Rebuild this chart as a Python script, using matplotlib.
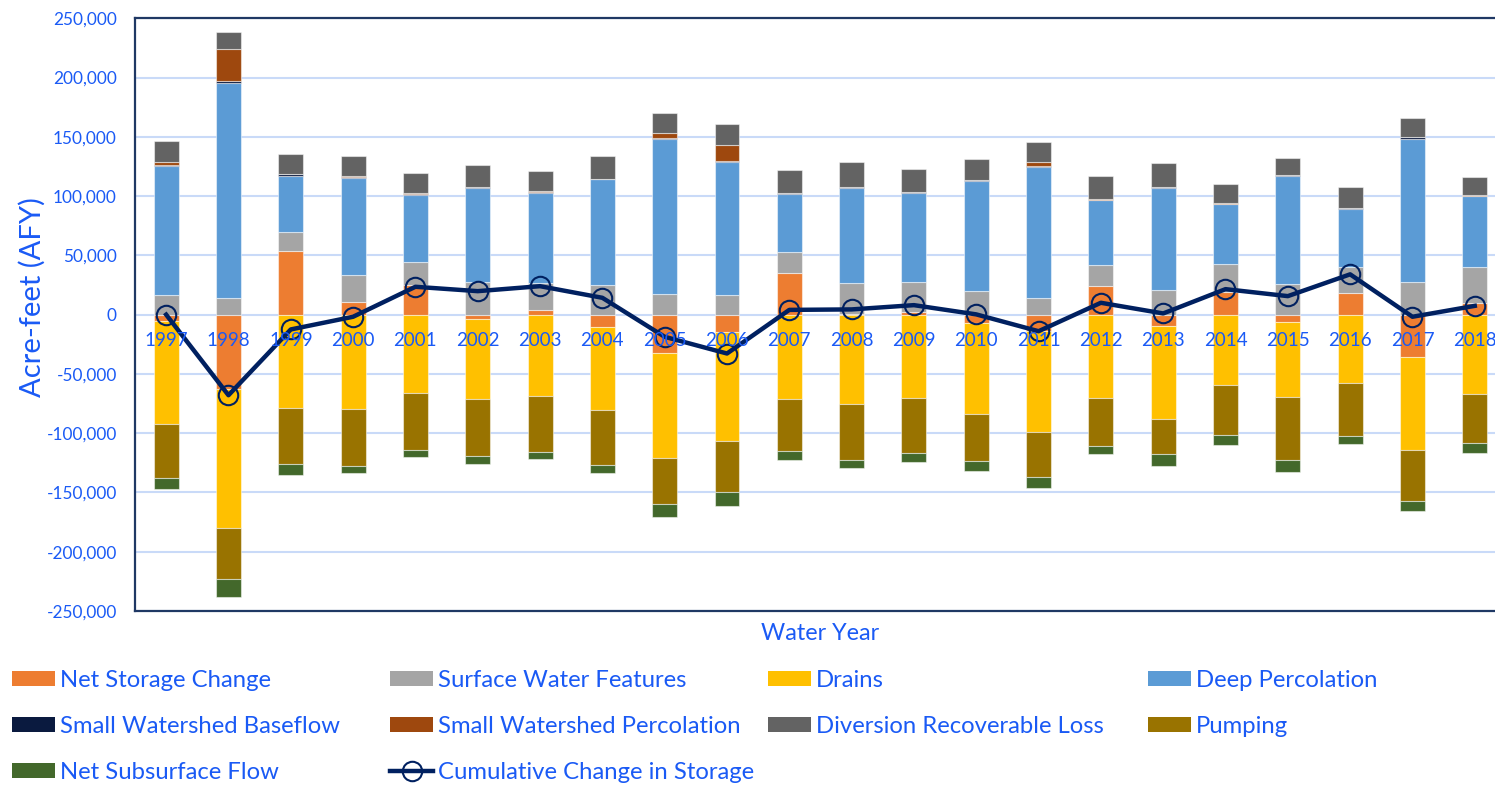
import numpy as np
import matplotlib.pyplot as plt
from matplotlib.lines import Line2D
from matplotlib.patches import Patch
from matplotlib.ticker import FuncFormatter

plt.rcParams['font.family'] = ['Lato', 'DejaVu Sans']

# Water budget components (acre-feet per year)
years = list(range(1997, 2019))
net_storage = [-5200, -63000, 53900, 10800, 25000, -3800, 4000, -10300, -32000, -15000, 35300,
               400, 2400, -7400, -14000, 24300, -9700, 19500, -6600, 18400, -36100, 9500]
surface_water = [16500, 14200, 16000, 23000, 19000, 27200, 22300, 25000, 17300, 16500, 17200,
                 25900, 24800, 19600, 13900, 17500, 20700, 23000, 25800, 22000, 27200, 30400]
drains = [-86700, -117000, -78700, -80000, -66000, -67600, -69000, -70400, -88600, -91800, -70800,
          -75300, -70300, -76400, -85000, -70500, -78000, -59500, -63300, -57300, -78300, -67100]
deep_perc = [109000, 181000, 47300, 81500, 57000, 79400, 76600, 89000, 131000, 112300, 49300,
             80800, 75700, 93200, 110900, 54700, 86400, 50600, 91400, 48700, 121300, 60200]
sw_baseflow = [1000, 1500, 1300, 1000, 1000, 1000, 800, 600, 1000, 1000, 800,
               600, 600, 600, 1000, 500, 500, 600, 400, 500, 1000, 400]
sw_perc = [2500, 27000, 300, 300, 200, 200, 200, 200, 4000, 13400, 200,
           200, 200, 200, 2700, 200, 200, 200, 200, 200, 300, 200]
div_loss = [17800, 14600, 16800, 17000, 17300, 18200, 17300, 18800, 17100, 17900, 19500,
            20500, 19400, 17700, 16900, 20000, 19900, 16100, 14600, 18200, 16200, 15700]
pumping = [-45600, -42800, -47000, -48000, -48000, -48000, -46900, -46400, -39000, -42900, -43900,
           -47000, -46400, -39700, -38000, -40000, -29900, -42000, -53000, -45100, -42500, -41200]
subsurface = [-9900, -15700, -10000, -6000, -6000, -6500, -6000, -6800, -11300, -11800, -8200,
              -7000, -7300, -8400, -9000, -7100, -10400, -8700, -10100, -6400, -9100, -8700]
cumulative = [0, -68000, -12500, -1800, 23500, 19800, 24000, 14200, -18700, -32800, 4000,
              4400, 8000, 200, -14000, 10000, 1000, 21500, 15600, 34000, -1800, 7400]

series = [
    ("Net Storage Change", net_storage, "#ED7D31"),
    ("Surface Water Features", surface_water, "#A5A5A5"),
    ("Drains", drains, "#FFC000"),
    ("Deep Percolation", deep_perc, "#5B9BD5"),
    ("Small Watershed Baseflow", sw_baseflow, "#0A1A3F"),
    ("Small Watershed Percolation", sw_perc, "#9E480E"),
    ("Diversion Recoverable Loss", div_loss, "#636363"),
    ("Pumping", pumping, "#997300"),
    ("Net Subsurface Flow", subsurface, "#43682B"),
]

blue = '#1A5AF5'
navy = '#002060'

fig = plt.figure(figsize=(14.95, 7.85), dpi=100)
ax = fig.add_axes([0.0903, 0.2217, 0.917, 0.755])

x = np.arange(len(years))
pos = np.zeros(len(years))
neg = np.zeros(len(years))
handles = {}
for name, vals, color in series:
    v = np.array(vals, dtype=float)
    bottom = np.where(v >= 0, pos, neg)
    ax.bar(x, v, 0.4, bottom=bottom, color=color, edgecolor=(1, 1, 1, 0.5), linewidth=0.8, zorder=2)
    pos += np.where(v >= 0, v, 0)
    neg += np.where(v < 0, v, 0)
    handles[name] = Patch(facecolor=color)

ax.plot(x, cumulative, color=navy, lw=3.2, marker='o', ms=14, mfc='none', mec=navy, mew=1.5, zorder=3)
handles["Cumulative Change in Storage"] = Line2D([], [], color=navy, lw=3.2, marker='o', ms=14,
                                                 mfc='none', mec=navy, mew=1.5)

# year labels sit just under the zero line
for i, yr in enumerate(years):
    ax.text(i, -21500, str(yr), ha='center', va='center', color=blue, fontsize=13.5, zorder=4)

ax.set_xlim(-0.5, len(years) - 0.5)
ax.set_ylim(-250000, 250000)
ax.set_yticks(np.arange(-250000, 250001, 50000))
ax.yaxis.set_major_formatter(FuncFormatter(lambda v, p: f"{v:,.0f}"))
ax.set_xticks([])
ax.tick_params(axis='y', length=0, labelcolor=blue, labelsize=12.4, pad=13)
ax.yaxis.grid(True, color='#C9DAF8', lw=1.5)
ax.set_axisbelow(True)

for s in ['left', 'top', 'bottom']:
    ax.spines[s].set_color('#1F3864')
    ax.spines[s].set_linewidth(1.6)
ax.spines['right'].set_visible(False)

ax.set_ylabel("Acre-feet (AFY)", color=blue, fontsize=21)
ax.yaxis.set_label_coords(-0.065, 0.53)
ax.set_xlabel("Water Year", color=blue, fontsize=16.8, labelpad=9)

# legend laid out as four evenly spaced columns
columns = [
    ["Net Storage Change", "Small Watershed Baseflow", "Net Subsurface Flow"],
    ["Surface Water Features", "Small Watershed Percolation", "Cumulative Change in Storage"],
    ["Drains", "Diversion Recoverable Loss"],
    ["Deep Percolation", "Pumping"],
]
col_x = [0.008, 0.261, 0.514, 0.768]
for cx, names in zip(col_x, columns):
    leg = fig.legend([handles[n] for n in names], names, loc='upper left', bbox_to_anchor=(cx, 0.147),
                     frameon=False, fontsize=17.2, handlelength=1.8, handleheight=0.6, handletextpad=0.2,
                     labelspacing=1.05, borderpad=0, borderaxespad=0)
    for t in leg.get_texts():
        t.set_color(blue)

fig.savefig("out.png", dpi=100)
